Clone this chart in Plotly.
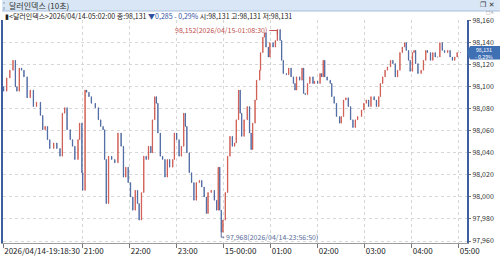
import plotly.graph_objects as go
import pandas as pd

# ---------------- data ----------------
times = [
    "19:19", "19:23", "19:27", "19:31", "19:34", "19:36", "19:39", "19:42", "19:45", "19:49", "19:53", "19:57",
    "20:01", "20:06", "20:09", "20:12", "20:15", "20:18", "20:23", "20:27", "20:31", "20:34", "20:37", "20:40",
    "20:44", "20:47", "20:50", "20:54", "20:56", "20:59",
    "21:00", "21:03", "21:05", "21:08", "21:11", "21:16", "21:20", "21:23", "21:26", "21:28", "21:30", "21:33",
    "21:37", "21:41", "21:45", "21:49", "21:52", "21:55", "21:58",
    "22:01", "22:04", "22:07", "22:10", "22:12", "22:15", "22:18", "22:21", "22:24", "22:27", "22:29", "22:32",
    "22:34", "22:36", "22:39", "22:42", "22:45", "22:48", "22:51", "22:55", "22:57",
    "23:00", "23:03", "23:06", "23:09", "23:11", "23:13", "23:16", "23:19", "23:22", "23:25", "23:29", "23:32",
    "23:35", "23:38", "23:40", "23:44", "23:48", "23:51", "23:53", "23:55", "23:56:50", "23:59",
    "00:02", "00:05", "00:08", "00:11", "00:14", "00:16", "00:19", "00:21", "00:23", "00:26", "00:30", "00:33",
    "00:35", "00:37", "00:40", "00:42", "00:46", "00:47", "00:50", "00:52", "00:54", "00:57", "00:59",
    "01:03", "01:06", "01:08:30", "01:12", "01:14", "01:16", "01:20", "01:23", "01:26", "01:29", "01:31", "01:33",
    "01:37", "01:40", "01:42", "01:44", "01:47", "01:50", "01:54", "01:56",
    "02:00", "02:03", "02:05", "02:07", "02:09", "02:12", "02:16", "02:18", "02:21", "02:24", "02:28", "02:30",
    "02:33", "02:36", "02:39", "02:42", "02:45", "02:48", "02:51", "02:56", "02:59",
    "03:02", "03:05", "03:08", "03:12", "03:15", "03:18", "03:20", "03:23", "03:26", "03:29", "03:33", "03:36",
    "03:39", "03:42", "03:45", "03:48", "03:51", "03:53", "03:56", "03:58",
    "04:01", "04:03", "04:05", "04:08", "04:12", "04:15", "04:18", "04:20", "04:24", "04:27", "04:30", "04:33",
    "04:36", "04:39", "04:42", "04:46", "04:49", "04:52", "04:55", "04:58",
    "05:02",
]
closes = [
    98.096, 98.108, 98.115, 98.124, 98.100, 98.096, 98.117, 98.115, 98.109, 98.090, 98.097, 98.082,
    98.086, 98.074, 98.061, 98.064, 98.052, 98.044, 98.049, 98.044, 98.037, 98.076, 98.081, 98.061,
    98.052, 98.046, 98.034, 98.052, 98.067, 98.022,
    98.006, 98.097, 98.095, 98.091, 98.085, 98.081, 98.070, 98.064, 98.061, 98.034, 97.994, 98.037,
    98.034, 98.031, 98.058, 98.046, 98.018, 98.027, 98.013,
    98.000, 97.988, 98.006, 97.994, 97.979, 98.004, 98.037, 98.034, 98.046, 98.040, 98.070, 98.091,
    98.085, 98.058, 98.037, 98.034, 98.018, 98.034, 98.027, 98.034, 98.058,
    98.052, 98.037, 98.046, 98.076, 98.064, 98.040, 98.022, 98.013, 97.997, 98.013, 98.015, 98.009,
    98.000, 97.985, 98.004, 98.006, 97.997, 97.988, 98.027, 97.988, 97.968, 97.979,
    98.004, 98.037, 98.055, 98.046, 98.049, 98.070, 98.097, 98.076, 98.055, 98.070, 98.082, 98.058,
    98.043, 98.067, 98.088, 98.106, 98.115, 98.131, 98.145, 98.149, 98.136, 98.127, 98.140,
    98.136, 98.142, 98.152, 98.142, 98.124, 98.112, 98.111, 98.117, 98.109, 98.103, 98.097, 98.109,
    98.106, 98.117, 98.094, 98.093, 98.103, 98.109, 98.103, 98.105,
    98.103, 98.112, 98.109, 98.124, 98.109, 98.106, 98.103, 98.091, 98.085, 98.073, 98.067, 98.073,
    98.088, 98.090, 98.082, 98.070, 98.063, 98.070, 98.073, 98.079, 98.085,
    98.088, 98.082, 98.091, 98.088, 98.082, 98.091, 98.103, 98.109, 98.115, 98.118, 98.124, 98.121,
    98.109, 98.115, 98.131, 98.136, 98.140, 98.133, 98.124, 98.114,
    98.131, 98.133, 98.121, 98.112, 98.115, 98.124, 98.133, 98.131, 98.124, 98.131, 98.127, 98.127,
    98.140, 98.133, 98.131, 98.133, 98.127, 98.124, 98.127, 98.131,
    98.131,
]
first_open = 98.100

y_ticks = [97.960, 97.980, 98.000, 98.020, 98.040, 98.060, 98.080, 98.100, 98.120, 98.140, 98.160]
y_tick_labels = ["97,960", "97,980", "98,000", "98,020", "98,040", "98,060",
                 "98,080", "98,100", "98,120", "98,140", "98,160"]
x_ticks = ["2026-04-14 19:18:30", "2026-04-14 21:00", "2026-04-14 22:00", "2026-04-14 23:00",
           "2026-04-15 00:00", "2026-04-15 01:00", "2026-04-15 02:00", "2026-04-15 03:00",
           "2026-04-15 04:00", "2026-04-15 05:00"]
x_tick_labels = ["2026/04/14-19:18:30", "21:00", "22:00", "23:00", "15-00:00",
                 "01:00", "02:00", "03:00", "04:00", "05:00"]
x_range = ["2026-04-14 19:18:14", "2026-04-15 05:10:36"]

title_text = "달러인덱스 (10초)"
info_parts = [
    ("▮<달러인덱스>2026/04/14-05:02:00 종:98,131 ", "#222222"),
    ("▼0,285 - 0,29%", "#2f4f9f"),
    (" 시:98,131 고:98,131 저:98,131", "#222222"),
]
last_tag = "98,131<br>- 0,29%"

# ---------------- build ----------------
assert len(times) == len(closes)


def to_dt(t):
    hh = int(t[:2])
    day = "2026-04-14" if hh >= 19 else "2026-04-15"
    s = t if len(t) > 5 else t + ":00"
    return pd.Timestamp(f"{day} {s}")


x = [to_dt(t) for t in times]
opens = [first_open] + closes[:-1]
highs = [max(o, c) for o, c in zip(opens, closes)]
lows = [min(o, c) for o, c in zip(opens, closes)]

RED = "#cc4f44"
BLUE = "#3f5d9b"
FONT = "Liberation Sans Narrow, Noto Sans CJK KR, sans-serif"

fig = go.Figure()
fig.add_trace(go.Candlestick(
    x=x, open=opens, high=highs, low=lows, close=closes,
    increasing=dict(line=dict(color=RED, width=0.7), fillcolor=RED),
    decreasing=dict(line=dict(color=BLUE, width=0.7), fillcolor=BLUE),
    whiskerwidth=0, showlegend=False, hoverinfo="skip",
))

# pixel -> paper helpers for layout decorations
L, R, T, B = 1, 467, 20, 243
W, H = R - L, B - T


def px(v):
    return (v - L) / W


def py(v):
    return (B - v) / H


shapes = []
annotations = []

# title bar
shapes.append(dict(type="rect", xref="paper", yref="paper", x0=px(0), x1=px(500), y0=py(11), y1=py(0),
                   fillcolor="#d8e6f5", line=dict(width=0), layer="above"))
shapes.append(dict(type="line", xref="paper", yref="paper", x0=px(0), x1=px(500), y0=py(11), y1=py(11),
                   line=dict(color="#a8bfdc", width=1)))
shapes.append(dict(type="line", xref="paper", yref="paper", x0=px(2), x1=px(2), y0=py(10), y1=py(2),
                   line=dict(color="#8a9ab5", width=1, dash="dot")))
annotations.append(dict(xref="paper", yref="paper", x=px(5), y=py(5.5), xanchor="left", yanchor="middle",
                        text=title_text, showarrow=False, font=dict(family=FONT, size=8, color="#333333")))
annotations.append(dict(xref="paper", yref="paper", x=px(497), y=py(5.5), xanchor="right", yanchor="middle",
                        text="<b>❐ ✕</b>", showarrow=False, font=dict(family="DejaVu Sans", size=7, color="#333333")))
annotations.append(dict(xref="paper", yref="paper", x=px(496), y=py(13), xanchor="right", yanchor="middle",
                        text="□×", showarrow=False, font=dict(family="DejaVu Sans", size=4.5, color="#888888")))

# info line
info_html = "".join(f"<span style='color:{c}'>{t}</span>" for t, c in info_parts)
annotations.append(dict(xref="paper", yref="paper", x=px(1), y=py(15.5), xanchor="left", yanchor="middle",
                        text=info_html, showarrow=False, font=dict(family=FONT, size=7, color="#222222")))

# max / min labels
imax = max(range(len(closes)), key=lambda i: closes[i])
imin = min(range(len(closes)), key=lambda i: closes[i])
vmax, vmin = closes[imax], closes[imin]
tmax, tmin = x[imax], x[imin]
max_txt = f"{vmax:.3f}".replace(".", ",") + "(" + tmax.strftime("%Y/%m/%d-%H:%M:%S") + ")"
min_txt = f"{vmin:.3f}".replace(".", ",") + "(" + tmin.strftime("%Y/%m/%d-%H:%M:%S") + ")"
MAXC = "#c0504d"
MINC = "#5a6d9a"
annotations.append(dict(x=tmax, y=vmax, xref="x", yref="y", xanchor="right", yanchor="middle",
                        xshift=-8, yshift=-1, text=max_txt, showarrow=False,
                        font=dict(family=FONT, size=7, color=MAXC)))
shapes.append(dict(type="path", xref="x", yref="y", xsizemode="pixel", ysizemode="pixel",
                   xanchor=tmax, yanchor=vmax, path="M -8,-1 L 0,-1 L 0,-5",
                   line=dict(color=MAXC, width=1)))
annotations.append(dict(x=tmin, y=vmin, xref="x", yref="y", xanchor="left", yanchor="middle",
                        xshift=3, yshift=-5, text=min_txt, showarrow=False,
                        font=dict(family=FONT, size=7, color=MINC)))
shapes.append(dict(type="path", xref="x", yref="y", xsizemode="pixel", ysizemode="pixel",
                   xanchor=tmin, yanchor=vmin, path="M 0,0 L 0,-5 L 3,-5",
                   line=dict(color=MINC, width=1)))

# current price tag: pointed blue box anchored at the last close
TAGC = "#4070b4"
shapes.append(dict(type="path", xref="paper", yref="y", xsizemode="pixel", ysizemode="pixel",
                   xanchor=1, yanchor=closes[-1],
                   path="M 0,0 L 3,6.5 L 33,6.5 L 33,-7 L 3,-7 Z",
                   fillcolor=TAGC, line=dict(width=0), layer="above"))
annotations.append(dict(xref="paper", yref="y", x=px(484), y=closes[-1], xanchor="center", yanchor="middle",
                        yshift=-0.2, text=last_tag, showarrow=False, borderpad=0, align="center",
                        font=dict(family=FONT, size=5.2, color="white")))

fig.update_layout(
    width=500, height=257,
    margin=dict(l=L, r=500 - R, t=T, b=257 - B, pad=0),
    paper_bgcolor="white", plot_bgcolor="white",
    shapes=shapes, annotations=annotations,
    font=dict(family=FONT, size=8, color="#333333"),
    xaxis=dict(
        type="date", range=x_range, rangeslider=dict(visible=False),
        tickvals=x_ticks, ticktext=x_tick_labels, ticklabelposition="outside right",
        tickfont=dict(family=FONT, size=8, color="#222222"),
        ticks="outside", ticklen=4, tickcolor="#777777",
        showgrid=True, gridcolor="#d6d6d6", griddash="dot", gridwidth=1,
        showline=True, linecolor="#9a9a9a", linewidth=1,
        zeroline=False, fixedrange=True,
    ),
    yaxis=dict(
        side="right", range=[97.9582, 98.1606],
        tickvals=y_ticks, ticktext=y_tick_labels,
        tickfont=dict(family=FONT, size=7, color="#333333"),
        ticks="outside", ticklen=2, tickcolor="#777777",
        showgrid=True, gridcolor="#d6d6d6", griddash="dot", gridwidth=1,
        showline=True, linecolor="#3d5f9f", linewidth=2, mirror=True,
        zeroline=False, fixedrange=True,
    ),
)

fig.write_html("out.html")
